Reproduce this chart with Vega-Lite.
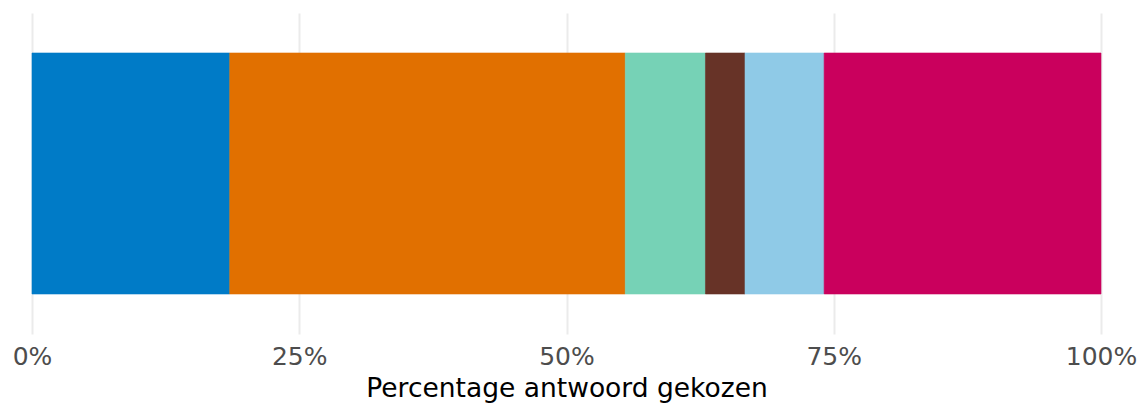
{
  "$schema": "https://vega.github.io/schema/vega-lite/v6.json",
  "width": 1069,
  "height": 321,
  "autosize": "none",
  "padding": {"left": 32, "top": 13, "right": 39, "bottom": 73},
  "background": "white",
  "data": {
    "values": [
      {"vraag": "v", "antwoord": "Antwoord 1", "volgorde": 1, "percentage": 0.185},
      {"vraag": "v", "antwoord": "Antwoord 2", "volgorde": 2, "percentage": 0.370},
      {"vraag": "v", "antwoord": "Antwoord 3", "volgorde": 3, "percentage": 0.075},
      {"vraag": "v", "antwoord": "Antwoord 4", "volgorde": 4, "percentage": 0.037},
      {"vraag": "v", "antwoord": "Antwoord 5", "volgorde": 5, "percentage": 0.074},
      {"vraag": "v", "antwoord": "Antwoord 6", "volgorde": 6, "percentage": 0.259}
    ]
  },
  "mark": {"type": "bar", "strokeWidth": 0.6},
  "encoding": {
    "x": {
      "field": "percentage",
      "type": "quantitative",
      "stack": "zero",
      "scale": {"domain": [0, 1], "nice": false, "zero": true},
      "axis": {
        "values": [0, 0.25, 0.5, 0.75, 1],
        "format": ".0%",
        "title": "Percentage antwoord gekozen",
        "domain": false,
        "ticks": false,
        "grid": true,
        "gridColor": "#EBEBEB",
        "gridWidth": 2,
        "labelFont": "DejaVu Sans",
        "labelFontSize": 25,
        "labelColor": "#4D4D4D",
        "labelPadding": 10,
        "labelFlush": false,
        "titleFont": "DejaVu Sans",
        "titleFontSize": 26.5,
        "titleFontWeight": "normal",
        "titleColor": "#000000",
        "titlePadding": 6
      }
    },
    "y": {
      "field": "vraag",
      "type": "nominal",
      "axis": null,
      "scale": {"paddingInner": 0, "paddingOuter": 0.166}
    },
    "color": {
      "field": "antwoord",
      "type": "nominal",
      "legend": null,
      "scale": {
        "domain": ["Antwoord 1", "Antwoord 2", "Antwoord 3", "Antwoord 4", "Antwoord 5", "Antwoord 6"],
        "range": ["#007BC7", "#E17000", "#76D2B6", "#673327", "#8FCAE7", "#CA005D"]
      }
    },
    "stroke": {
      "field": "antwoord",
      "type": "nominal",
      "legend": null,
      "scale": {
        "domain": ["Antwoord 1", "Antwoord 2", "Antwoord 3", "Antwoord 4", "Antwoord 5", "Antwoord 6"],
        "range": ["#007BC7", "#E17000", "#76D2B6", "#673327", "#8FCAE7", "#CA005D"]
      }
    },
    "order": {"field": "volgorde", "type": "quantitative"}
  },
  "config": {"view": {"stroke": null}}
}
